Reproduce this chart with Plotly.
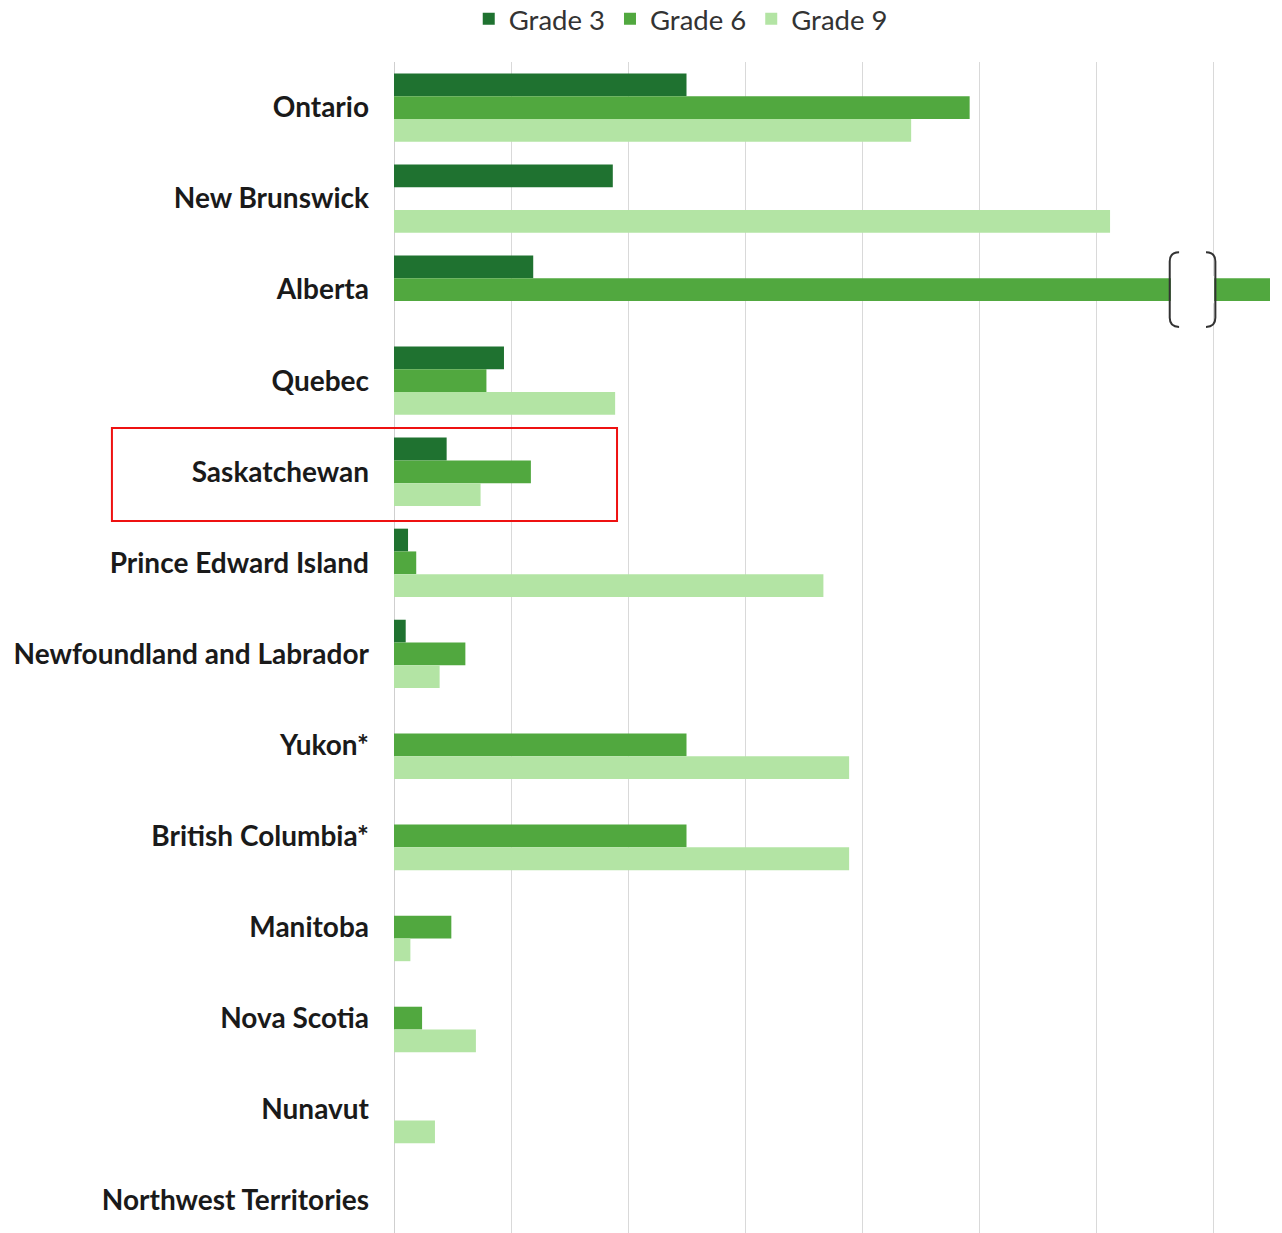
import plotly.graph_objects as go

provinces = ["Ontario", "New Brunswick", "Alberta", "Quebec", "Saskatchewan",
             "Prince Edward Island", "Newfoundland and Labrador", "Yukon*",
             "British Columbia*", "Manitoba", "Nova Scotia", "Nunavut",
             "Northwest Territories"]
grade3 = [2.50, 1.87, 1.19, 0.94, 0.45, 0.12, 0.10, None, None, None, None, None, None]
grade6 = [4.92, None, 7.49, 0.79, 1.17, 0.19, 0.61, 2.50, 2.50, 0.49, 0.24, None, None]
grade9 = [4.42, 6.12, None, 1.89, 0.74, 3.67, 0.39, 3.89, 3.89, 0.14, 0.70, 0.35, None]

series = [("Grade 3", grade3, "#1f7230"), ("Grade 6", grade6, "#51a83f"), ("Grade 9", grade9, "#b3e4a4")]
pos = list(range(len(provinces)))

fig = go.Figure()
for name, vals, col in series:
    fig.add_trace(go.Bar(y=pos, x=vals, name=name, orientation="h",
                         marker=dict(color=col, line=dict(width=0))))

x_max = 7.487
fig.update_layout(
    width=1282, height=1233, autosize=False,
    margin=dict(l=394, r=12, t=62, b=0, pad=0),
    paper_bgcolor="white", plot_bgcolor="white",
    barmode="group", bargap=0.25, bargroupgap=0,
    font=dict(family="Lato", color="#222222"),
    legend=dict(orientation="h", xref="container", yref="container",
                x=0.531, xanchor="center", y=0.9846, yanchor="middle",
                font=dict(family="Lato", size=27.5, color="#333333"),
                traceorder="normal", itemwidth=30),
    xaxis=dict(range=[0, x_max], dtick=1, tick0=0, showticklabels=False,
               showgrid=True, gridcolor="#d9d9d9", gridwidth=1,
               zeroline=True, zerolinecolor="#cfcfcf", zerolinewidth=1, fixedrange=True),
    yaxis=dict(tickvals=pos, ticktext=provinces, range=[12.36, -0.5],
               showgrid=False, zeroline=False, ticks="", ticklabelstandoff=24,
               tickfont=dict(family="Lato", size=28, color="#1a1a1a", weight="bold"),
               fixedrange=True),
)

# axis break on Alberta Grade 6 bar
alb = provinces.index("Alberta")
bx0, bx1 = 6.63, 7.02
fig.add_shape(type="rect", xref="x", yref="y", x0=bx0 + 0.01, x1=bx1 - 0.01,
              y0=alb - 0.15, y1=alb + 0.15, fillcolor="white", line=dict(width=0), layer="above")
h = 0.41
dx = 0.08
r = 0.1
left = (f"M {bx0+dx},{alb-h} Q {bx0},{alb-h} {bx0},{alb-h+r} "
        f"L {bx0},{alb+h-r} Q {bx0},{alb+h} {bx0+dx},{alb+h}")
right = (f"M {bx1-dx},{alb-h} Q {bx1},{alb-h} {bx1},{alb-h+r} "
         f"L {bx1},{alb+h-r} Q {bx1},{alb+h} {bx1-dx},{alb+h}")
for p in (left, right):
    fig.add_shape(type="path", xref="x", yref="y", path=p,
                  line=dict(color="#333333", width=2), layer="above")

# highlight box around Saskatchewan
sk = provinces.index("Saskatchewan")
fig.add_shape(type="rect", xref="paper", yref="y", x0=-0.322, x1=0.2546,
              y0=sk - 0.48, y1=sk + 0.54, line=dict(color="#ee1111", width=2),
              fillcolor="rgba(0,0,0,0)", layer="above")

fig.write_html("out.html")
